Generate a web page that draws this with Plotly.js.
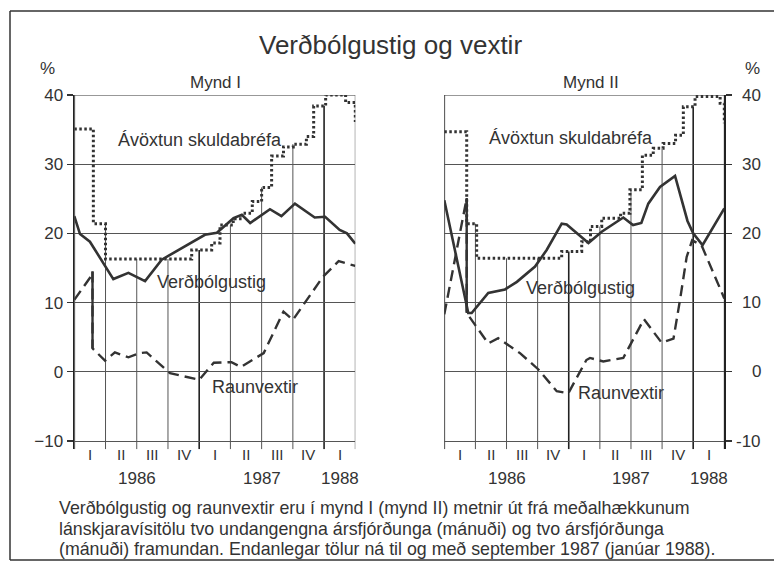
<!DOCTYPE html>
<html><head><meta charset="utf-8">
<script src="https://cdn.plot.ly/plotly-3.0.1.min.js"></script>
<style>html,body{margin:0;padding:0;background:#fff;} #chart{width:774px;height:565px;}</style>
</head><body><div id="chart"></div>
<script>
// ---------- data (x = months since 1 Jan 1986) ----------
const quarterLabels = ["I","II","III","IV","I","II","III","IV","I"];
const quarterCenters = [1.5,4.5,7.5,10.5,13.5,16.5,19.5,22.5,25.5];
const quarterBounds = [0,3,6,9,12,15,18,21,24,27];
const yearBounds = [0,12,24];
const yearLabels = ["1986","1987","1988"];
const yearPos = [6,18,25.5];
const yTicks = [-10,0,10,20,30,40];

// Mynd I
const infl1X = [0,0.55,1.5,2.95,3.75,5.2,6.8,8.4,12.55,13.7,15.3,16.1,16.9,18.8,19.9,21.2,23.1,24.1,25.5,26.2,27];
const infl1Y = [22.5,19.9,18.8,15.2,13.4,14.3,13.1,16.2,19.8,20.1,22.2,22.7,21.5,23.5,22.5,24.3,22.3,22.4,20.5,20.0,18.5];
const real1X = [0,1.7,1.75,1.75,2.95,3.9,5.2,6.3,6.95,9.2,12.0,13.4,15.1,16.0,18.2,20.1,21.0,23.9,25.4,27];
const real1Y = [10.4,14.0,14.5,3.4,1.6,2.8,2.1,2.7,2.8,-0.2,-1.15,1.3,1.4,0.7,2.7,8.7,7.5,13.75,16.0,15.3];
const bond1X = [0,1.83,3,11.28,13.2,14.0,15.27,16.08,17.1,18.0,18.96,20.1,21.04,22.3,23.0,24.15,26.07,27];
const bond1Y = [35.1,21.4,16.3,17.6,18.6,21.2,22.1,22.9,24.6,26.65,31.2,32.5,32.9,34.0,38.4,40.0,38.9,36.1];

// Mynd II
const infl2X = [0,2.31,2.64,4.24,5.85,7.0,8.75,9.87,11.32,11.8,13.9,15.18,17.26,18.2,19.0,19.67,20.8,22.25,23.45,24.0,24.9,27];
const infl2Y = [24.8,8.5,8.5,11.4,11.9,13.0,15.2,17.6,21.4,21.3,18.6,20.25,22.3,21.2,21.5,24.3,26.7,28.3,21.8,20.0,18.3,23.6];
const real2X = [0,2.05,2.16,2.16,4.24,5.2,7.3,9.1,10.84,11.96,13.7,14.05,15.33,17.26,19.25,20.96,22.1,22.73,23.37,23.9,24.8,27];
const real2Y = [8.3,24.7,25.1,8.5,4.1,4.85,2.7,0.3,-2.8,-3.1,1.7,2.0,1.5,2.0,7.6,4.2,4.8,10.4,16.6,19.0,18.3,10.6];
const bond2X = [0,2.16,3.12,11.32,13.25,14.1,15.18,17.0,17.9,19.1,20.15,21.1,22.3,23.05,24.18,26.6,27];
const bond2Y = [34.7,21.4,16.4,17.4,18.8,21.0,22.2,22.9,26.3,31.3,32.3,33.0,34.2,38.3,39.8,38.8,35.9];

const titleText = "Verðbólgustig og vextir";
const panelTitles = ["Mynd I","Mynd II"];
const seriesNames = ["Ávöxtun skuldabréfa","Verðbólgustig","Raunvextir"];
const captionLines = [
  "Verðbólgustig og raunvextir eru í mynd I (mynd II) metnir út frá meðalhækkunum",
  "lánskjaravísitölu tvo undangengna ársfjórðunga (mánuði) og tvo ársfjórðunga",
  "(mánuði) framundan. Endanlegar tölur ná til og með september 1987 (janúar 1988)."
];

// ---------- layout helpers ----------
const W = 774, H = 565;
const px = p => p / W;
const py = p => 1 - p / H;
const INK = '#333';
const FONT = 'Liberation Sans, Arial, sans-serif';
const yRange = [-11.2, 40];

function stepVal(xs, ys, m) {
  let v = ys[0];
  for (let i = 0; i < xs.length; i++) if (xs[i] <= m) v = ys[i];
  return v;
}
function dropTop(xs, ys, m) {
  if (m === 0 || m === 27) return 40;
  return Math.max(stepVal(xs, ys, m - 0.05), stepVal(xs, ys, m + 0.05));
}
function dropSeg(xs, ys) {
  for (let i = 0; i < xs.length - 1; i++) if (xs[i] === xs[i + 1]) return {x: [xs[i], xs[i + 1]], y: [ys[i], ys[i + 1]]};
  return {x: [], y: []};
}

const panels = [
  {xa: 'x', ya: 'y', infl: [infl1X, infl1Y], real: [real1X, real1Y], bond: [bond1X, bond1Y]},
  {xa: 'x2', ya: 'y2', infl: [infl2X, infl2Y], real: [real2X, real2Y], bond: [bond2X, bond2Y]}
];

const traces = [];
const shapes = [];
panels.forEach(p => {
  traces.push({x: p.bond[0], y: p.bond[1], xaxis: p.xa, yaxis: p.ya, mode: 'lines',
    line: {shape: 'hv', color: INK, width: 3, dash: '2.5px,2.5px'}, hoverinfo: 'skip'});
  traces.push({x: p.real[0], y: p.real[1], xaxis: p.xa, yaxis: p.ya, mode: 'lines',
    line: {color: INK, width: 2.4, dash: '11px,6px'}, hoverinfo: 'skip'});
  const d = dropSeg(p.real[0], p.real[1]);
  traces.push({x: d.x, y: d.y, xaxis: p.xa, yaxis: p.ya, mode: 'lines',
    line: {color: INK, width: 2.4}, hoverinfo: 'skip'});
  traces.push({x: p.infl[0], y: p.infl[1], xaxis: p.xa, yaxis: p.ya, mode: 'lines',
    line: {color: INK, width: 2.6}, hoverinfo: 'skip'});
  // vertical quarter lines dropping from the bond-yield line
  quarterBounds.forEach(m => {
    const thick = yearBounds.includes(m);
    shapes.push({type: 'line', xref: p.xa, yref: p.ya, x0: m, x1: m, y0: yRange[0],
      y1: dropTop(p.bond[0], p.bond[1], m), layer: 'below',
      line: {color: thick ? '#222' : '#555', width: thick ? 1.6 : 1}});
  });
  // top frame line
  shapes.push({type: 'line', xref: p.xa, yref: p.ya, x0: 0, x1: 27, y0: 40, y1: 40, layer: 'below',
    line: {color: INK, width: 1.2}});
});

// outer frame (left, top, bottom)
shapes.push({type: 'line', xref: 'paper', yref: 'paper', x0: px(10), x1: px(10), y0: py(11), y1: py(560), line: {color: INK, width: 1.5}});
shapes.push({type: 'line', xref: 'paper', yref: 'paper', x0: px(10), x1: 1, y0: py(11), y1: py(11), line: {color: INK, width: 1.5}});
shapes.push({type: 'line', xref: 'paper', yref: 'paper', x0: px(10), x1: 1, y0: py(560), y1: py(560), line: {color: INK, width: 1.5}});

const ann = [];
const txt = (text, x, y, size, opts = {}) => Object.assign({text, x, y, xref: 'paper', yref: 'paper',
  showarrow: false, xanchor: 'center', yanchor: 'middle', font: {family: FONT, size, color: INK}}, opts);

ann.push(txt(titleText, px(390), py(45), 26));
ann.push(txt('%', px(47), py(68), 17));
ann.push(txt('%', px(752), py(68), 17));
ann.push(txt(panelTitles[0], px(215), py(82), 17));
ann.push(txt(panelTitles[1], px(591), py(82), 17));

// series labels
ann.push(txt(seriesNames[0], px(199.5), py(140), 18));
ann.push(txt(seriesNames[1], px(211), py(282), 18));
ann.push(txt(seriesNames[2], px(255), py(387), 18));
ann.push(txt(seriesNames[0], px(571), py(138), 18));
ann.push(txt(seriesNames[1], px(580.5), py(288), 18));
ann.push(txt(seriesNames[2], px(621), py(393), 18));

// quarter and year labels
['x', 'x2'].forEach(xa => {
  quarterLabels.forEach((q, i) => ann.push(txt(q, quarterCenters[i], py(454), 15, {xref: xa})));
  yearLabels.forEach((yl, i) => ann.push(txt(yl, yearPos[i], py(478), 17, {xref: xa})));
});

// right-hand y tick labels (right aligned)
yTicks.forEach(v => ann.push(txt(String(v), px(763), v, 17, {yref: 'y2', xanchor: 'right'})));

// caption
captionLines.forEach((l, i) => ann.push(txt(l, px(57), py(508 + 20.5 * i), 17.8, {xanchor: 'left'})));

const yCommon = {
  domain: [py(449.3), py(95)], range: yRange, tickvals: yTicks, ticks: 'outside', ticklen: 6,
  tickcolor: INK, tickwidth: 1.3, showline: true, linecolor: '#222', linewidth: 1.8,
  showgrid: true, gridcolor: '#555', gridwidth: 1, zeroline: false, fixedrange: true,
  tickfont: {family: FONT, size: 17, color: INK}
};
const xCommon = {range: [0, 27], showgrid: false, zeroline: false, showticklabels: false,
  ticks: '', showline: false, fixedrange: true};

const layout = {
  width: W, height: H, margin: {l: 0, r: 0, t: 0, b: 0}, showlegend: false,
  paper_bgcolor: '#fff', plot_bgcolor: 'rgba(0,0,0,0)',
  xaxis: Object.assign({}, xCommon, {domain: [px(74.3), px(355.3)], anchor: 'y'}),
  yaxis: Object.assign({}, yCommon, {anchor: 'x', side: 'left'}),
  xaxis2: Object.assign({}, xCommon, {domain: [px(444.3), px(724.3)], anchor: 'y2'}),
  yaxis2: Object.assign({}, yCommon, {anchor: 'x2', side: 'right', showticklabels: false}),
  shapes, annotations: ann
};

Plotly.newPlot('chart', traces, layout, {displayModeBar: false, staticPlot: true});
</script></body></html>
